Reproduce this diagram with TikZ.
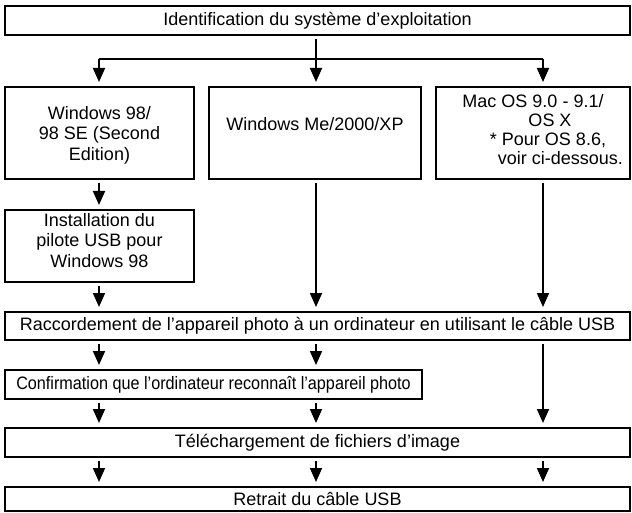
\documentclass[tikz,border=0pt]{standalone}
\usepackage{fontspec}
\setmainfont{Liberation Sans}
\usetikzlibrary{arrows.meta,positioning}

\begin{document}
\begin{tikzpicture}[x=1pt, y=1pt, font=\fontsize{18}{20.5}\selectfont,
    >={Triangle[width=12pt,length=14pt]}, line width=1.8pt,
    box/.style={draw, line width=1.8pt, inner sep=2pt, outer sep=0pt, align=center},
    link/.style={->, shorten <=4pt, shorten >=5pt}]
    \useasboundingbox (0,0) rectangle (632,-513);

    \node[box, anchor=north west, minimum width=625pt, minimum height=29pt] (ident) at (5,-6) {Identification du système d’exploitation};

    \node[box, anchor=north west, minimum width=189pt, minimum height=92pt] (win98) at (5,-87) {\rule{0pt}{17pt}Windows 98/\\98 SE (Second\\Edition)};
    \node[box, minimum width=212pt, minimum height=92pt, right=15pt of win98] (winme) {Windows Me/2000/XP\rule[-18pt]{0pt}{0pt}};
    \node[box, minimum width=194pt, minimum height=92pt, right=15pt of winme, font=\fontsize{18}{19}\selectfont] (macos) {Mac OS 9.0 - 9.1/\\\hspace*{34pt}OS X\\\hspace*{30pt}* Pour OS 8.6,\\\hspace*{55pt}voir ci-dessous.\rule[-8pt]{0pt}{0pt}};

    \node[box, minimum width=189pt, minimum height=72pt, below=31pt of win98] (pilote) {Installation du\\pilote USB pour\\Windows 98\rule[-12pt]{0pt}{0pt}};

    \node[box, minimum width=625pt, minimum height=28pt, below=30pt of pilote.south west, anchor=north west] (raccord) {Raccordement de l’appareil photo à un ordinateur en utilisant le câble USB};
    \node[box, minimum width=417pt, minimum height=29pt, below=30pt of raccord.south west, anchor=north west] (confirm) {\scalebox{0.9}[1]{Confirmation que l’ordinateur reconnaît l’appareil photo}};
    \node[box, minimum width=625pt, minimum height=29pt, below=29pt of confirm.south west, anchor=north west] (telech) {Téléchargement de fichiers d’image};
    \node[box, minimum width=625pt, minimum height=24pt, below=30pt of telech.south west, anchor=north west] (retrait) {Retrait du câble USB};

    % columns of the arrows
    \coordinate (colL) at (99,0);
    \coordinate (colM) at (316,0);
    \coordinate (colR) at (543,0);
    \coordinate (fork) at (316,-59);

    \draw[shorten <=4pt] (colM |- ident.south) -- (fork);
    \draw (colL |- fork) -- (colR |- fork);
    \draw[->, shorten >=5pt] (colL |- fork) -- (colL |- win98.north);
    \draw[->, shorten >=5pt] (colM |- fork) -- (colM |- winme.north);
    \draw[->, shorten >=5pt] (colR |- fork) -- (colR |- macos.north);

    \draw[link] (colL |- win98.south) -- (colL |- pilote.north);
    \draw[link] (colL |- pilote.south) -- (colL |- raccord.north);
    \draw[link] (colM |- winme.south) -- (colM |- raccord.north);
    \draw[link] (colR |- macos.south) -- (colR |- raccord.north);

    \draw[link] (colL |- raccord.south) -- (colL |- confirm.north);
    \draw[link] (colM |- raccord.south) -- (colM |- confirm.north);
    \draw[link] (colR |- raccord.south) -- (colR |- telech.north);

    \draw[link] (colL |- confirm.south) -- (colL |- telech.north);
    \draw[link] (colM |- confirm.south) -- (colM |- telech.north);

    \draw[link] (colL |- telech.south) -- (colL |- retrait.north);
    \draw[link] (colM |- telech.south) -- (colM |- retrait.north);
    \draw[link] (colR |- telech.south) -- (colR |- retrait.north);
\end{tikzpicture}
\end{document}
